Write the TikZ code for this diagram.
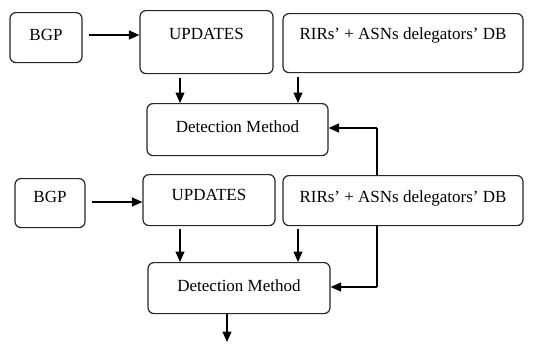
\documentclass[tikz,border=0pt]{standalone}
\usepackage{fontspec}
\setmainfont{Liberation Serif}
\usetikzlibrary{arrows.meta,backgrounds}
\begin{document}
\begin{tikzpicture}[x=1pt,y=-1pt,
  box/.style={draw=black!85, rounded corners=6pt, line width=1.2pt, inner sep=0pt, fill=white,
    font=\fontsize{17}{20}\selectfont, anchor=north},
  arr/.style={line width=1.3pt, -{Triangle[length=10.5pt,width=9pt]}}]
\useasboundingbox (0,0) rectangle (535,351);
% top group
\node[box, minimum width=72pt, text height=28pt, text depth=22pt] (bgp1) at (46,12) {BGP};
\node[box, minimum width=133pt, text height=28.5pt, text depth=34.5pt] (upd1) at (206.5,10) {UPDATES};
\node[box, minimum width=240pt, text height=26pt, text depth=33pt] (rir1) at (403,13) {RIRs' + ASNs delegators' DB};
\node[box, minimum width=181pt, text height=29pt, text depth=23pt] (det1) at (237.5,103) {Detection Method};
% bottom group
\node[box, minimum width=70pt, text height=24pt, text depth=25pt] (bgp2) at (50,178) {BGP};
\node[box, minimum width=132pt, text height=26pt, text depth=25pt] (upd2) at (209,174) {UPDATES};
\node[box, minimum width=240pt, text height=27pt, text depth=23pt] (rir2) at (403,175) {RIRs' + ASNs delegators' DB};
\node[box, minimum width=182pt, text height=29pt, text depth=22pt] (det2) at (239,262) {Detection Method};
\coordinate (fbtop) at (377,128);
\coordinate (fbbot) at (377,287);
\coordinate (out) at (227,342);
% connectors
\draw[arr, shorten <=6pt] (bgp1.east |- 0,35) -- (upd1.west |- 0,35);
\draw[arr, shorten <=4pt] (upd1.south -| 180,0) -- (det1.north -| 180,0);
\draw[arr, shorten <=4pt] (rir1.south -| 298,0) -- (det1.north -| 298,0);
\draw[arr, shorten <=6pt] (bgp2.east |- 0,202) -- (upd2.west |- 0,202);
\draw[arr, shorten <=3pt] (upd2.south -| 180,0) -- (det2.north -| 180,0);
\draw[arr, shorten <=3pt] (rir2.south -| 298,0) -- (det2.north -| 298,0);
\draw[arr] (det2.south -| out) -- (out);
\begin{scope}[on background layer]
\draw[line width=1.3pt] (fbtop) -- (fbbot);
\end{scope}
\draw[arr] (fbtop) -- (det1.east |- fbtop);
\draw[arr] (fbbot) -- (det2.east |- fbbot);
\end{tikzpicture}
\end{document}
